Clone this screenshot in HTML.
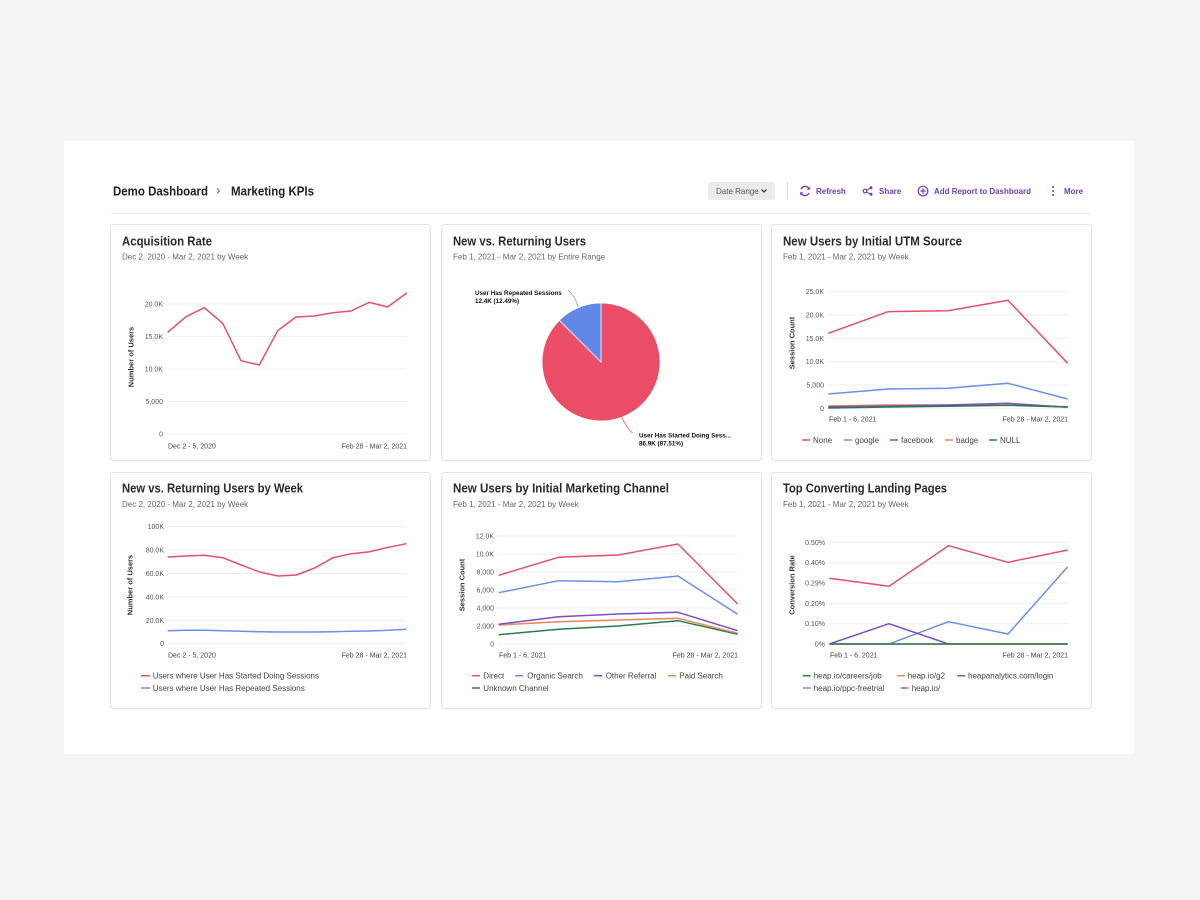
<!DOCTYPE html>
<html><head><meta charset="utf-8"><style>
html,body{margin:0;padding:0;background:#f5f5f7;}
svg{display:block;font-family:"Liberation Sans",sans-serif;}
.tk{font-size:7px;fill:#555;text-anchor:end;}
.xl{font-size:7px;fill:#444;}
.lg{font-size:8px;fill:#444;}
.ti{font-size:12.5px;font-weight:bold;fill:#2a2a2a;}
.st{font-size:8px;fill:#666;}
.ax{font-size:7.5px;font-weight:bold;fill:#333;text-anchor:middle;}
.gr{stroke:#f0f0f0;stroke-width:1;}
.ln{fill:none;stroke-width:1.5;stroke-linejoin:round;}
.card{fill:#fff;stroke:#e3e3e3;stroke-width:1;}
.pb{font-size:8px;font-weight:bold;fill:#6b40b0;}
</style></head><body>
<svg width="1200" height="900" viewBox="0 0 1200 900" xmlns="http://www.w3.org/2000/svg">
<rect x="0" y="0" width="1200" height="900" fill="#f5f5f7"/>
<rect x="64" y="141" width="1070" height="613" fill="#fff"/>

<!-- Header -->
<text x="113" y="195.5" style="font-size:12.5px;font-weight:bold;fill:#222" textLength="95" lengthAdjust="spacingAndGlyphs">Demo Dashboard</text>
<path d="M217,188.5 l2.5,2.5 l-2.5,2.5" fill="none" stroke="#666" stroke-width="1"/>
<text x="231" y="195.5" style="font-size:12.5px;font-weight:bold;fill:#222" textLength="83" lengthAdjust="spacingAndGlyphs">Marketing KPIs</text>
<line x1="110" y1="213.5" x2="1091" y2="213.5" stroke="#efefef" stroke-width="1"/>

<rect x="708" y="182" width="67" height="18" rx="3" fill="#ebebeb"/>
<text x="716" y="194" style="font-size:8px;fill:#555">Date Range</text>
<path d="M761.5,189.5 l2.5,2.5 l2.5,-2.5" fill="none" stroke="#333" stroke-width="1.2"/>
<line x1="787.5" y1="182" x2="787.5" y2="200" stroke="#ddd" stroke-width="1"/>

<path d="M801,189 A4.5,4.5 0 0,1 809.3,189.5 M809,193 A4.5,4.5 0 0,1 800.7,192.5" fill="none" stroke="#6b40b0" stroke-width="1.4"/>
<path d="M809.8,186.5 l0,3.3 l-3,0 z M800.2,195.5 l0,-3.3 l3,0 z" fill="#6b40b0"/>
<text x="816" y="194" class="pb">Refresh</text>

<circle cx="865" cy="191" r="1.8" fill="none" stroke="#6b40b0" stroke-width="1.2"/>
<circle cx="871" cy="187.8" r="1.5" fill="#6b40b0"/>
<circle cx="871" cy="194.2" r="1.5" fill="#6b40b0"/>
<path d="M866.5,190.2 L870,188.3 M866.5,191.8 L870,193.7" stroke="#6b40b0" stroke-width="1"/>
<text x="879" y="194" class="pb">Share</text>

<circle cx="923" cy="191" r="4.8" fill="none" stroke="#6b40b0" stroke-width="1.2"/>
<path d="M923,188.3 v5.4 M920.3,191 h5.4" stroke="#6b40b0" stroke-width="1.2"/>
<text x="934" y="194" class="pb" textLength="97" lengthAdjust="spacingAndGlyphs">Add Report to Dashboard</text>

<circle cx="1053" cy="187" r="1" fill="#6b40b0"/>
<circle cx="1053" cy="191" r="1" fill="#6b40b0"/>
<circle cx="1053" cy="195" r="1" fill="#6b40b0"/>
<text x="1064" y="194" class="pb">More</text>

<!-- Cards -->
<rect class="card" x="110.5" y="224.5" width="320" height="236" rx="3"/>
<rect class="card" x="441.5" y="224.5" width="320" height="236" rx="3"/>
<rect class="card" x="771.5" y="224.5" width="320" height="236" rx="3"/>
<rect class="card" x="110.5" y="472.5" width="320" height="236" rx="3"/>
<rect class="card" x="441.5" y="472.5" width="320" height="236" rx="3"/>
<rect class="card" x="771.5" y="472.5" width="320" height="236" rx="3"/>

<!-- Card 1: Acquisition Rate -->
<text x="122" y="245.5" class="ti" textLength="90" lengthAdjust="spacingAndGlyphs">Acquisition Rate</text>
<text x="122" y="259.5" class="st">Dec 2, 2020 - Mar 2, 2021 by Week</text>
<g class="gr">
<line x1="167" y1="304" x2="407" y2="304"/><line x1="167" y1="336.5" x2="407" y2="336.5"/>
<line x1="167" y1="369" x2="407" y2="369"/><line x1="167" y1="401.5" x2="407" y2="401.5"/>
<line x1="167" y1="434" x2="407" y2="434"/>
</g>
<text x="163" y="306.5" class="tk">20.0K</text><text x="163" y="339" class="tk">15.0K</text>
<text x="163" y="371.5" class="tk">10.0K</text><text x="163" y="404" class="tk">5,000</text>
<text x="163" y="436.5" class="tk">0</text>
<text class="ax" transform="translate(133.5,357) rotate(-90)">Number of Users</text>
<text x="168" y="448.5" class="xl">Dec 2 - 5, 2020</text>
<text x="407" y="448.5" class="xl" text-anchor="end">Feb 28 - Mar 2, 2021</text>
<polyline class="ln" stroke="#e2506a" points="167.7,332.3 186,316.7 204.3,307.7 222.7,323.3 241,360.7 259.3,365 277.7,330.7 296,317 314.3,316 332.7,312.7 351,311 369.3,302.3 387.7,307 406.7,293"/>

<!-- Card 2: Pie -->
<text x="453" y="245.5" class="ti" textLength="133" lengthAdjust="spacingAndGlyphs">New vs. Returning Users</text>
<text x="453" y="259.5" class="st">Feb 1, 2021 - Mar 2, 2021 by Entire Range</text>
<path d="M601,362 L559.3,320.3 A59,59 0 1,0 601,303 Z" fill="#eb4d66" stroke="#fff" stroke-width="0.8"/>
<path d="M601,362 L601,303 A59,59 0 0,0 559.3,320.3 Z" fill="#5f88e8" stroke="#fff" stroke-width="0.8"/>
<path d="M568,290 Q576,297 578,307" fill="none" stroke="#7b9be8" stroke-width="0.8"/>
<path d="M621.5,416.5 Q626,427 632.5,433" fill="none" stroke="#eb4d66" stroke-width="0.8"/>
<text x="475" y="295" style="font-size:6.3px;font-weight:bold;fill:#111">User Has Repeated Sessions</text>
<text x="475" y="303" style="font-size:6.3px;font-weight:bold;fill:#111">12.4K (12.49%)</text>
<text x="639" y="437.5" style="font-size:6.3px;font-weight:bold;fill:#111">User Has Started Doing Sess...</text>
<text x="639" y="445.5" style="font-size:6.3px;font-weight:bold;fill:#111">86.9K (87.51%)</text>

<!-- Card 3: UTM Source -->
<text x="783" y="245.5" class="ti" textLength="179" lengthAdjust="spacingAndGlyphs">New Users by Initial UTM Source</text>
<text x="783" y="259.5" class="st">Feb 1, 2021 - Mar 2, 2021 by Week</text>
<g class="gr">
<line x1="828" y1="291.7" x2="1068" y2="291.7"/><line x1="828" y1="315" x2="1068" y2="315"/>
<line x1="828" y1="338.3" x2="1068" y2="338.3"/><line x1="828" y1="361.7" x2="1068" y2="361.7"/>
<line x1="828" y1="385" x2="1068" y2="385"/><line x1="828" y1="408.3" x2="1068" y2="408.3"/>
</g>
<text x="824" y="294.2" class="tk">25.0K</text><text x="824" y="317.5" class="tk">20.0K</text>
<text x="824" y="340.8" class="tk">15.0K</text><text x="824" y="364.2" class="tk">10.0K</text>
<text x="824" y="387.5" class="tk">5,000</text><text x="824" y="410.8" class="tk">0</text>
<text class="ax" transform="translate(794.5,343) rotate(-90)">Session Count</text>
<text x="829" y="421.5" class="xl">Feb 1 - 6, 2021</text>
<text x="1068" y="421.5" class="xl" text-anchor="end">Feb 28 - Mar 2, 2021</text>
<polyline class="ln" stroke="#e8855a" points="828.3,406 888,405 948,405 1008,405 1067.7,406.7"/>
<polyline class="ln" stroke="#7b4fc4" points="828.3,406.7 888,406 948,405 1008,403.3 1067.7,407.3"/>
<polyline class="ln" stroke="#2b7a4b" points="828.3,408 888,407 948,406.3 1008,405.3 1067.7,407"/>
<polyline class="ln" stroke="#6a90e8" points="828.3,394 888,389 948,388.3 1008,383.3 1067.7,399"/>
<polyline class="ln" stroke="#e2506a" points="828.3,333.3 888,311.7 948,310.7 1008,300.3 1067.7,363.3"/>
<g stroke-width="1.5">
<line x1="802" y1="440" x2="810" y2="440" stroke="#e2506a"/><text x="813" y="443" class="lg">None</text>
<line x1="844" y1="440" x2="852" y2="440" stroke="#6a90e8"/><text x="855" y="443" class="lg">google</text>
<line x1="890" y1="440" x2="898" y2="440" stroke="#7b4fc4"/><text x="901" y="443" class="lg">facebook</text>
<line x1="945" y1="440" x2="953" y2="440" stroke="#e8855a"/><text x="956" y="443" class="lg">badge</text>
<line x1="989" y1="440" x2="997" y2="440" stroke="#2b7a4b"/><text x="1000" y="443" class="lg">NULL</text>
</g>

<!-- Card 4: New vs Returning by Week -->
<text x="122" y="492.5" class="ti" textLength="181" lengthAdjust="spacingAndGlyphs">New vs. Returning Users by Week</text>
<text x="122" y="507" class="st">Dec 2, 2020 - Mar 2, 2021 by Week</text>
<g class="gr">
<line x1="168" y1="526.7" x2="407" y2="526.7"/><line x1="168" y1="550.1" x2="407" y2="550.1"/>
<line x1="168" y1="573.5" x2="407" y2="573.5"/><line x1="168" y1="596.9" x2="407" y2="596.9"/>
<line x1="168" y1="620.3" x2="407" y2="620.3"/><line x1="168" y1="643.7" x2="407" y2="643.7"/>
</g>
<text x="164" y="529.2" class="tk">100K</text><text x="164" y="552.6" class="tk">80.0K</text>
<text x="164" y="576" class="tk">60.0K</text><text x="164" y="599.4" class="tk">40.0K</text>
<text x="164" y="622.8" class="tk">20.0K</text><text x="164" y="646.2" class="tk">0</text>
<text class="ax" transform="translate(132.5,585) rotate(-90)">Number of Users</text>
<text x="168" y="657.5" class="xl">Dec 2 - 5, 2020</text>
<text x="407" y="657.5" class="xl" text-anchor="end">Feb 28 - Mar 2, 2021</text>
<polyline class="ln" stroke="#6a90e8" points="167.7,630.7 186.1,630.3 204.5,630.3 222.8,630.7 241.2,631.3 259.6,631.7 278,632 296.3,632 314.7,632 333.1,631.7 351.5,631.3 369.9,631 388.2,630.3 406.6,629.3"/>
<polyline class="ln" stroke="#e2506a" points="167.7,557 186.1,556 204.5,555.3 222.8,557.7 241.2,565 259.6,572 278,576 296.3,575 314.7,568 333.1,557.7 351.5,553.7 369.9,551.7 388.2,547.3 406.6,543.7"/>
<g stroke-width="1.5">
<line x1="141" y1="675.7" x2="150" y2="675.7" stroke="#e2506a"/><text x="152.7" y="678.5" class="lg">Users where User Has Started Doing Sessions</text>
<line x1="141" y1="688" x2="150" y2="688" stroke="#6a90e8"/><text x="152.7" y="690.8" class="lg">Users where User Has Repeated Sessions</text>
</g>

<!-- Card 5: Marketing Channel -->
<text x="453" y="492.5" class="ti" textLength="216" lengthAdjust="spacingAndGlyphs">New Users by Initial Marketing Channel</text>
<text x="453" y="507" class="st">Feb 1, 2021 - Mar 2, 2021 by Week</text>
<g class="gr">
<line x1="498" y1="536" x2="738" y2="536"/><line x1="498" y1="554" x2="738" y2="554"/>
<line x1="498" y1="572" x2="738" y2="572"/><line x1="498" y1="590" x2="738" y2="590"/>
<line x1="498" y1="608" x2="738" y2="608"/><line x1="498" y1="626" x2="738" y2="626"/>
<line x1="498" y1="644" x2="738" y2="644"/>
</g>
<text x="494" y="538.5" class="tk">12.0K</text><text x="494" y="556.5" class="tk">10.0K</text>
<text x="494" y="574.5" class="tk">8,000</text><text x="494" y="592.5" class="tk">6,000</text>
<text x="494" y="610.5" class="tk">4,000</text><text x="494" y="628.5" class="tk">2,000</text>
<text x="494" y="646.5" class="tk">0</text>
<text class="ax" transform="translate(464.5,585) rotate(-90)">Session Count</text>
<text x="499" y="657.5" class="xl">Feb 1 - 6, 2021</text>
<text x="738" y="657.5" class="xl" text-anchor="end">Feb 28 - Mar 2, 2021</text>
<polyline class="ln" stroke="#2b7a4b" points="498.7,634.7 558.5,629.3 618.2,626 678,620.7 737.7,634.3"/>
<polyline class="ln" stroke="#e8855a" points="498.7,625 558.5,621.7 618.2,620 678,618.3 737.7,633.3"/>
<polyline class="ln" stroke="#7b4fc4" points="498.7,624.3 558.5,616.7 618.2,614 678,612.3 737.7,630.7"/>
<polyline class="ln" stroke="#6a90e8" points="498.7,592.7 558.5,580.7 618.2,581.7 678,576 737.7,614.3"/>
<polyline class="ln" stroke="#e2506a" points="498.7,575.3 558.5,557.3 618.2,555 678,544 737.7,604"/>
<g stroke-width="1.5">
<line x1="472" y1="675.7" x2="480" y2="675.7" stroke="#e2506a"/><text x="483.3" y="678.5" class="lg">Direct</text>
<line x1="515" y1="675.7" x2="523" y2="675.7" stroke="#6a90e8"/><text x="527.3" y="678.5" class="lg">Organic Search</text>
<line x1="594" y1="675.7" x2="602" y2="675.7" stroke="#7b4fc4"/><text x="605.7" y="678.5" class="lg">Other Referral</text>
<line x1="668" y1="675.7" x2="676" y2="675.7" stroke="#e8855a"/><text x="679.3" y="678.5" class="lg">Paid Search</text>
<line x1="472" y1="688" x2="480" y2="688" stroke="#2b7a4b"/><text x="483.3" y="690.8" class="lg">Unknown Channel</text>
</g>

<!-- Card 6: Landing Pages -->
<text x="783" y="492.5" class="ti" textLength="164" lengthAdjust="spacingAndGlyphs">Top Converting Landing Pages</text>
<text x="783" y="507" class="st">Feb 1, 2021 - Mar 2, 2021 by Week</text>
<g class="gr">
<line x1="829" y1="542.3" x2="1068" y2="542.3"/><line x1="829" y1="562.7" x2="1068" y2="562.7"/>
<line x1="829" y1="583" x2="1068" y2="583"/><line x1="829" y1="603.3" x2="1068" y2="603.3"/>
<line x1="829" y1="623.7" x2="1068" y2="623.7"/><line x1="829" y1="644" x2="1068" y2="644"/>
</g>
<text x="825" y="544.8" class="tk">0.50%</text><text x="825" y="565.2" class="tk">0.40%</text>
<text x="825" y="585.5" class="tk">0.29%</text><text x="825" y="605.8" class="tk">0.20%</text>
<text x="825" y="626.2" class="tk">0.10%</text><text x="825" y="646.5" class="tk">0%</text>
<text class="ax" transform="translate(794.5,585) rotate(-90)">Conversion Rate</text>
<text x="830" y="657.5" class="xl">Feb 1 - 6, 2021</text>
<text x="1068" y="657.5" class="xl" text-anchor="end">Feb 28 - Mar 2, 2021</text>
<polyline class="ln" stroke="#e2506a" points="829.3,578.3 889,586.3 948.5,545.7 1008,562.3 1067.7,550"/>
<polyline class="ln" stroke="#6a90e8" points="829.3,644 889,644 948.5,621.7 1008,634 1067.7,566.7"/>
<polyline class="ln" stroke="#7b4fc4" points="829.3,644 889,623.7 948.5,644 1008,644 1067.7,644"/>
<polyline class="ln" stroke="#e8855a" points="829.3,644 1067.7,644"/>
<polyline class="ln" stroke="#2b7a4b" points="829.3,644 889,644 948.5,644 1008,644 1067.7,644"/>
<g stroke-width="1.5">
<line x1="802.7" y1="675.7" x2="810.7" y2="675.7" stroke="#2b7a4b"/><text x="813.7" y="678.5" class="lg">heap.io/careers/job</text>
<line x1="896.7" y1="675.7" x2="904.7" y2="675.7" stroke="#e8855a"/><text x="907.7" y="678.5" class="lg">heap.io/g2</text>
<line x1="957.3" y1="675.7" x2="965.3" y2="675.7" stroke="#7b4fc4"/><text x="968" y="678.5" class="lg">heapanalytics.com/login</text>
<line x1="802.7" y1="688" x2="810.7" y2="688" stroke="#6a90e8"/><text x="813.7" y="690.8" class="lg">heap.io/ppc-freetrial</text>
<line x1="900.7" y1="688" x2="908.7" y2="688" stroke="#e2506a"/><text x="911.7" y="690.8" class="lg">heap.io/</text>
</g>
</svg>
</body></html>
